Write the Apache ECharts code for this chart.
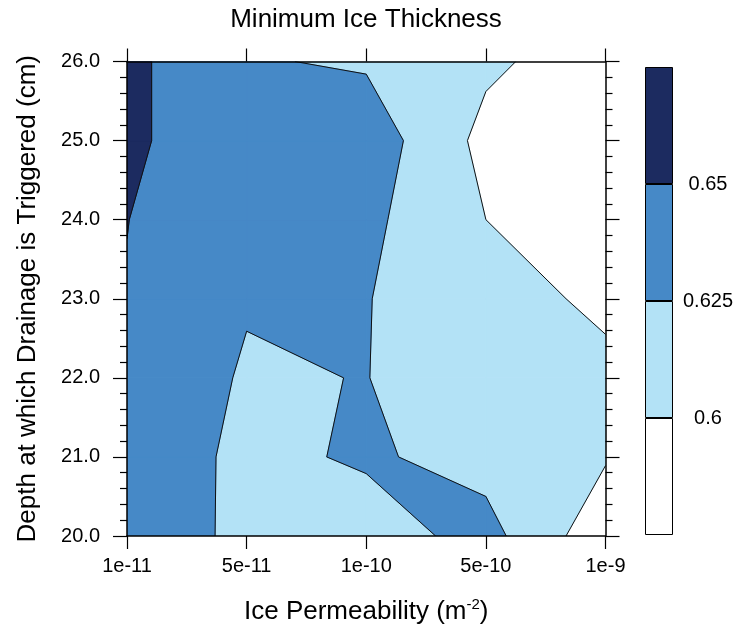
<!DOCTYPE html>
<html>
<head>
<meta charset="utf-8">
<script src="https://cdn.jsdelivr.net/npm/echarts@6/dist/echarts.min.js"></script>
<style>
  html, body { margin: 0; padding: 0; background: #fff; }
  #chart { width: 738px; height: 632px; }
</style>
</head>
<body>
<div id="chart"></div>
<script>
// ---- data ----
const xTickLabels = ['1e-11', '5e-11', '1e-10', '5e-10', '1e-9'];   // ice permeability (m^-2)
const depthValues = [20, 21, 22, 23, 24, 25, 26];                     // depth at which drainage is triggered (cm)
// minimum ice thickness at each depth, one value per permeability column
const thicknessAt20 = [0.645, 0.61783, 0.61326, 0.6335, 0.5835];
const thicknessAt21 = [0.6435, 0.61863, 0.62814, 0.6165, 0.60204];
const thicknessAt22 = [0.640, 0.62303, 0.62546, 0.61013, 0.60301];
const thicknessAt23 = [0.64908, 0.62637, 0.62605, 0.605, 0.59754];
const thicknessAt24 = [0.65029, 0.635, 0.6305, 0.600, 0.588];
const thicknessAt25 = [0.65389, 0.635, 0.6395, 0.5928, 0.585];
const thicknessAt26 = [0.656, 0.62687, 0.62224, 0.6044, 0.5868];
const contourLevels = [0.6, 0.625, 0.65];
const levelColors = ['#b3e2f6', '#4689c7', '#1c2b60'];
const belowColor = '#ffffff';
const colorbarLabels = ['', '0.6', '0.625', '0.65', ''];

const thicknessRows = [thicknessAt20, thicknessAt21, thicknessAt22, thicknessAt23,
                       thicknessAt24, thicknessAt25, thicknessAt26];

const FONT = 'Liberation Sans, Arial, Helvetica, sans-serif';

// clip one grid cell to the region where value >= level (linear interpolation along edges)
function clipCell(i, j, level) {
  const pts = [
    [i,     depthValues[j],     thicknessRows[j][i]],
    [i + 1, depthValues[j],     thicknessRows[j][i + 1]],
    [i + 1, depthValues[j + 1], thicknessRows[j + 1][i + 1]],
    [i,     depthValues[j + 1], thicknessRows[j + 1][i]]
  ];
  const cross = (a, b) => {
    const t = (level - a[2]) / (b[2] - a[2]);
    return { x: a[0] + t * (b[0] - a[0]), y: a[1] + t * (b[1] - a[1]), f: true };
  };
  const out = [];
  for (let n = 0; n < 4; n++) {
    const prev = pts[(n + 3) % 4], cur = pts[n];
    const pin = prev[2] >= level, cin = cur[2] >= level;
    if (cin) {
      if (!pin) out.push(cross(prev, cur));
      out.push({ x: cur[0], y: cur[1], f: false });
    } else if (pin) {
      out.push(cross(prev, cur));
    }
  }
  return out;
}

const cellItems = [];
for (let k = 0; k < contourLevels.length; k++)
  for (let j = 0; j < depthValues.length - 1; j++)
    for (let i = 0; i < xTickLabels.length - 1; i++)
      cellItems.push([i, j, k]);

const chart = echarts.init(document.getElementById('chart'), null, { renderer: 'canvas' });

const axisLineStyle = { color: '#000', width: 1.5 };
const tickStyle = { color: '#000', width: 1.2 };

const option = {
  backgroundColor: '#fff',
  animation: false,
  title: {
    text: 'Minimum Ice Thickness',
    left: 366, top: 5, textAlign: 'center', padding: 0,
    textStyle: { fontFamily: FONT, fontSize: 26, fontWeight: 'normal', color: '#000', lineHeight: 30 }
  },
  grid: [
    { left: 127, top: 61.5, width: 478.5, height: 478, containLabel: false },
    { left: 645, top: 67, width: 28, height: 468, containLabel: false }
  ],
  xAxis: [
    {
      type: 'value', gridIndex: 0, min: 0, max: 4, interval: 1, position: 'bottom', z: 10,
      axisLine: { show: true, onZero: false, lineStyle: axisLineStyle },
      axisTick: { show: true, length: 13, lineStyle: tickStyle },
      splitLine: { show: false },
      axisLabel: {
        formatter: v => xTickLabels[v] || '', margin: 20, color: '#000',
        fontFamily: FONT, fontSize: 20
      },
      name: 'Ice Permeability (m{sup|-2})', nameLocation: 'middle', nameGap: 61,
      nameTextStyle: {
        fontFamily: FONT, fontSize: 26, color: '#000', lineHeight: 30,
        rich: { sup: { fontFamily: FONT, fontSize: 15, color: '#000', verticalAlign: 'top', lineHeight: 16 } }
      }
    },
    {
      type: 'value', gridIndex: 0, min: 0, max: 4, interval: 1, position: 'top', z: 10,
      axisLine: { show: true, onZero: false, lineStyle: axisLineStyle },
      axisTick: { show: true, length: 13, lineStyle: tickStyle },
      splitLine: { show: false }, axisLabel: { show: false }
    },
    {
      type: 'category', gridIndex: 1, data: [''], show: false
    }
  ],
  yAxis: [
    {
      type: 'value', gridIndex: 0, min: 20, max: 26, interval: 1, position: 'left', z: 10,
      axisLine: { show: true, onZero: false, lineStyle: axisLineStyle },
      axisTick: { show: true, length: 14, lineStyle: tickStyle },
      minorTick: { show: true, splitNumber: 5, length: 7, lineStyle: tickStyle },
      splitLine: { show: false },
      axisLabel: {
        formatter: v => v.toFixed(1), margin: 27, color: '#000',
        fontFamily: FONT, fontSize: 20
      },
      name: 'Depth at which Drainage is Triggered (cm)', nameLocation: 'middle', nameGap: 84,
      nameTextStyle: { fontFamily: FONT, fontSize: 26, color: '#000', lineHeight: 30 }
    },
    {
      type: 'value', gridIndex: 0, min: 20, max: 26, interval: 1, position: 'right', z: 10,
      axisLine: { show: true, onZero: false, lineStyle: axisLineStyle },
      axisTick: { show: true, length: 14, lineStyle: tickStyle },
      minorTick: { show: true, splitNumber: 5, length: 7, lineStyle: tickStyle },
      splitLine: { show: false }, axisLabel: { show: false }
    },
    {
      type: 'value', gridIndex: 1, min: 0, max: 4, interval: 1, position: 'right',
      axisLine: { show: false }, axisTick: { show: false }, splitLine: { show: false },
      axisLabel: {
        formatter: v => colorbarLabels[v] || '', margin: 35, align: 'center', color: '#000',
        fontFamily: FONT, fontSize: 20
      }
    }
  ],
  series: [
    {
      type: 'custom', name: 'fill', xAxisIndex: 0, yAxisIndex: 0, z: 2, clip: true,
      data: cellItems,
      renderItem: function (params, api) {
        const i = api.value(0), j = api.value(1), k = api.value(2);
        const poly = clipCell(i, j, contourLevels[k]);
        if (poly.length < 3) return null;
        const points = poly.map(p => api.coord([p.x, p.y]));
        return {
          type: 'polygon', shape: { points },
          style: { fill: levelColors[k], stroke: levelColors[k], lineWidth: 1 }
        };
      }
    },
    {
      type: 'custom', name: 'lines', xAxisIndex: 0, yAxisIndex: 0, z: 3, clip: true,
      data: cellItems,
      renderItem: function (params, api) {
        const i = api.value(0), j = api.value(1), k = api.value(2);
        const poly = clipCell(i, j, contourLevels[k]);
        const children = [];
        for (let n = 0; n < poly.length; n++) {
          const a = poly[n], b = poly[(n + 1) % poly.length];
          if (a.f && b.f) {
            const p1 = api.coord([a.x, a.y]), p2 = api.coord([b.x, b.y]);
            children.push({
              type: 'line', shape: { x1: p1[0], y1: p1[1], x2: p2[0], y2: p2[1] },
              style: { stroke: '#111', lineWidth: 1 }
            });
          }
        }
        return { type: 'group', children };
      }
    },
    // colorbar: one box per band, bottom to top
    ...[belowColor].concat(levelColors).map((c, idx) => ({
      type: 'bar', name: 'band' + idx, xAxisIndex: 2, yAxisIndex: 2, stack: 'cb',
      barWidth: '100%', data: [1], silent: true,
      itemStyle: { color: c, borderColor: '#000', borderWidth: 1 }
    }))
  ]
};

chart.setOption(option);
</script>
</body>
</html>
